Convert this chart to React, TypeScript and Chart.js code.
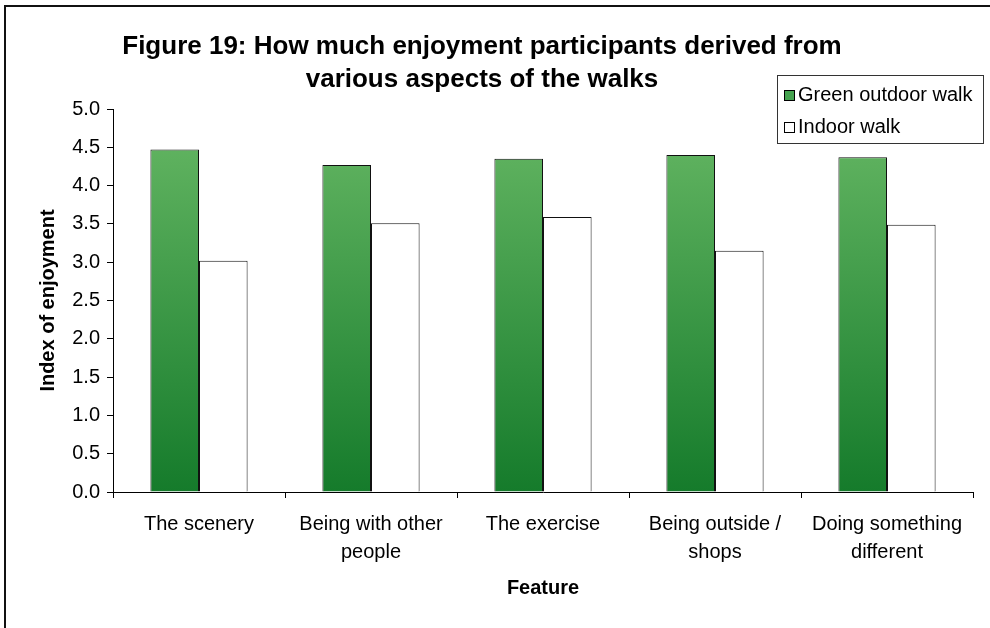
import React, { useEffect, useRef } from "react";
import { Chart, registerables } from "chart.js";

Chart.register(...registerables);

const categories: string[][] = [
  ["The scenery"],
  ["Being with other", "people"],
  ["The exercise"],
  ["Being outside /", "shops"],
  ["Doing something", "different"],
];
const seriesNames = ["Green outdoor walk", "Indoor walk"];
const greenOutdoor = [4.47, 4.27, 4.35, 4.4, 4.37];
const indoorWalk = [3.02, 3.51, 3.59, 3.15, 3.49];
const titleLines = [
  "Figure 19: How much enjoyment participants derived from",
  "various aspects of the walks",
];
const yAxisTitle = "Index of enjoyment";
const xAxisTitle = "Feature";
const yMin = 0;
const yMax = 5;
const yStep = 0.5;

const FONT = "'Liberation Sans', Arial, sans-serif";

const decorPlugin = {
  id: "decor",
  beforeDraw(chart: any) {
    const ctx = chart.ctx;
    ctx.save();
    ctx.fillStyle = "#ffffff";
    ctx.fillRect(0, 0, chart.width, chart.height);
    // outer frame (only top and left edges visible)
    ctx.strokeStyle = "#111111";
    ctx.lineWidth = 2;
    ctx.beginPath();
    ctx.moveTo(5, chart.height + 2);
    ctx.lineTo(5, 6);
    ctx.lineTo(chart.width + 2, 6);
    ctx.stroke();
    ctx.restore();
  },
  afterDraw(chart: any) {
    const ctx = chart.ctx;
    ctx.save();
    // title
    ctx.fillStyle = "#000000";
    ctx.font = `bold 26px ${FONT}`;
    ctx.textAlign = "center";
    ctx.textBaseline = "middle";
    titleLines.forEach((t, i) => ctx.fillText(t, 482, 47 + i * 33));
    // legend
    const bx = 777, by = 75, bw = 206, bh = 68;
    ctx.fillStyle = "#ffffff";
    ctx.fillRect(bx, by, bw, bh);
    ctx.strokeStyle = "#333333";
    ctx.lineWidth = 1;
    ctx.strokeRect(bx + 0.5, by + 0.5, bw, bh);
    ctx.font = `20px ${FONT}`;
    ctx.textAlign = "left";
    ctx.textBaseline = "middle";
    chart.data.datasets.forEach((ds: any, i: number) => {
      const cy = by + 20 + i * 32;
      ctx.fillStyle = i === 0 ? "#45a34f" : "#ffffff";
      ctx.fillRect(784, cy - 5, 10, 10);
      ctx.strokeStyle = "#000000";
      ctx.strokeRect(784.5, cy - 4.5, 10, 10);
      ctx.fillStyle = "#000000";
      ctx.fillText(ds.label, 798, cy);
    });
    ctx.restore();
  },
};

export default function App() {
  const ref = useRef<HTMLCanvasElement | null>(null);

  useEffect(() => {
    if (!ref.current) return;
    const greenFill = (c: any) => {
      const chart = c.chart;
      const scales = chart.scales;
      if (!chart.chartArea || !scales || !scales.y) return "#3c9a48";
      const y0 = scales.y.getPixelForValue(4.5);
      const y1 = scales.y.getPixelForValue(0);
      const g = chart.ctx.createLinearGradient(0, y0, 0, y1);
      g.addColorStop(0, "#5fb25f");
      g.addColorStop(1, "#157b2b");
      return g;
    };
    const chart = new Chart(ref.current, {
      type: "bar",
      data: {
        labels: categories,
        datasets: [
          {
            label: seriesNames[0],
            data: greenOutdoor,
            backgroundColor: greenFill,
            borderColor: "#111111",
            borderWidth: 1,
            categoryPercentage: 0.565,
            barPercentage: 1,
          },
          {
            label: seriesNames[1],
            data: indoorWalk,
            backgroundColor: "#ffffff",
            borderColor: "#111111",
            borderWidth: 1,
            categoryPercentage: 0.565,
            barPercentage: 1,
          },
        ],
      },
      options: {
        animation: false,
        responsive: true,
        maintainAspectRatio: false,
        layout: { padding: { top: 109, left: 0, right: 17, bottom: 0 } },
        plugins: {
          legend: { display: false },
          title: { display: false },
          tooltip: { enabled: false },
        },
        scales: {
          x: {
            afterFit: (s: any) => {
              s.height = 136;
            },
            grid: {
              display: true,
              drawOnChartArea: false,
              drawTicks: true,
              tickLength: 6,
              color: "#000000",
              offset: true,
            },
            border: { display: true, color: "#000000", width: 1 },
            ticks: {
              color: "#000000",
              font: { family: FONT, size: 20, lineHeight: 1.4 },
              padding: 12,
              maxRotation: 0,
              autoSkip: false,
            },
            title: {
              display: true,
              text: xAxisTitle,
              color: "#000000",
              font: { family: FONT, size: 20, weight: "bold" },
              padding: { top: 0, bottom: 28 },
            },
          },
          y: {
            min: yMin,
            max: yMax,
            afterFit: (s: any) => {
              s.width = 113;
            },
            grid: {
              display: true,
              drawOnChartArea: false,
              drawTicks: true,
              tickLength: 6,
              color: "#000000",
            },
            border: { display: true, color: "#000000", width: 1 },
            ticks: {
              stepSize: yStep,
              color: "#000000",
              font: { family: FONT, size: 20 },
              padding: 7,
              callback: (v: any) => Number(v).toFixed(1),
            },
            title: {
              display: true,
              text: yAxisTitle,
              color: "#000000",
              font: { family: FONT, size: 20, weight: "bold" },
              padding: { top: 36, bottom: 0 },
            },
          },
        },
      },
      plugins: [decorPlugin],
    });
    return () => chart.destroy();
  }, []);

  return (
    <div style={{ position: "absolute", left: 0, top: 0, width: 990, height: 628 }}>
      <canvas ref={ref} />
    </div>
  );
}
